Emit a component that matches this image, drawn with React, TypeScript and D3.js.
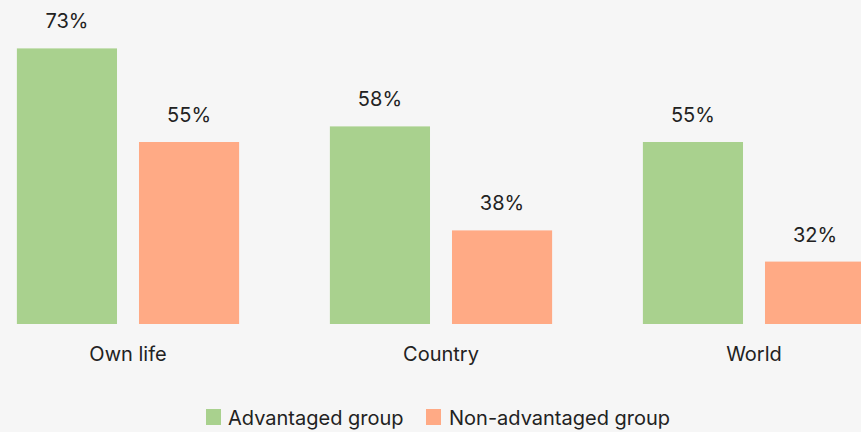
import React from "react";
import * as d3 from "d3";

const categories = ["Own life", "Country", "World"];
const seriesNames = ["Advantaged group", "Non-advantaged group"];
const advantaged = [73, 58, 55];
const nonAdvantaged = [55, 38, 32];
const seriesColors = ["#a9d18e", "#ffaa85"];

const W = 861;
const H = 432;
const FONT = "Inter, 'Open Sans', sans-serif";

export default function App() {
  const x0 = d3.scaleBand<string>().domain(categories).range([-28.5, 910.5]).paddingInner(0.29).paddingOuter(0.145);
  const x1 = d3.scaleBand<string>().domain(seriesNames).range([0, x0.bandwidth()]).paddingInner(0.18);
  const y = d3.scaleLinear().domain([20, 75]).range([324, 38]);
  const seriesValues = [advantaged, nonAdvantaged];

  return (
    <svg width={W} height={H} style={{ position: "absolute", left: 0, top: 0, background: "#f6f6f6" }} fontFamily={FONT}>
      <rect x={0} y={0} width={W} height={H} fill="#f6f6f6" />
      {categories.map((c, ci) => (
        <g key={c} transform={`translate(${x0(c)},0)`}>
          {seriesNames.map((s, si) => {
            const v = seriesValues[si][ci];
            const bx = x1(s)!;
            const bw = x1.bandwidth();
            return (
              <g key={s}>
                <rect x={bx} y={y(v)} width={bw} height={y(20) - y(v)} fill={seriesColors[si]} />
                <text x={bx + bw / 2} y={y(v) - 20} textAnchor="middle" fontSize={20} fill="#222">
                  {v}%
                </text>
              </g>
            );
          })}
          <text x={x0.bandwidth() / 2} y={361} textAnchor="middle" fontSize={20} fill="#222">
            {c}
          </text>
        </g>
      ))}
      <g>
        <rect x={206} y={409} width={15} height={16} fill={seriesColors[0]} />
        <text x={228} y={425} fontSize={20} fill="#222">{seriesNames[0]}</text>
        <rect x={426} y={409} width={15} height={16} fill={seriesColors[1]} />
        <text x={449} y={425} fontSize={20} fill="#222">{seriesNames[1]}</text>
      </g>
    </svg>
  );
}
